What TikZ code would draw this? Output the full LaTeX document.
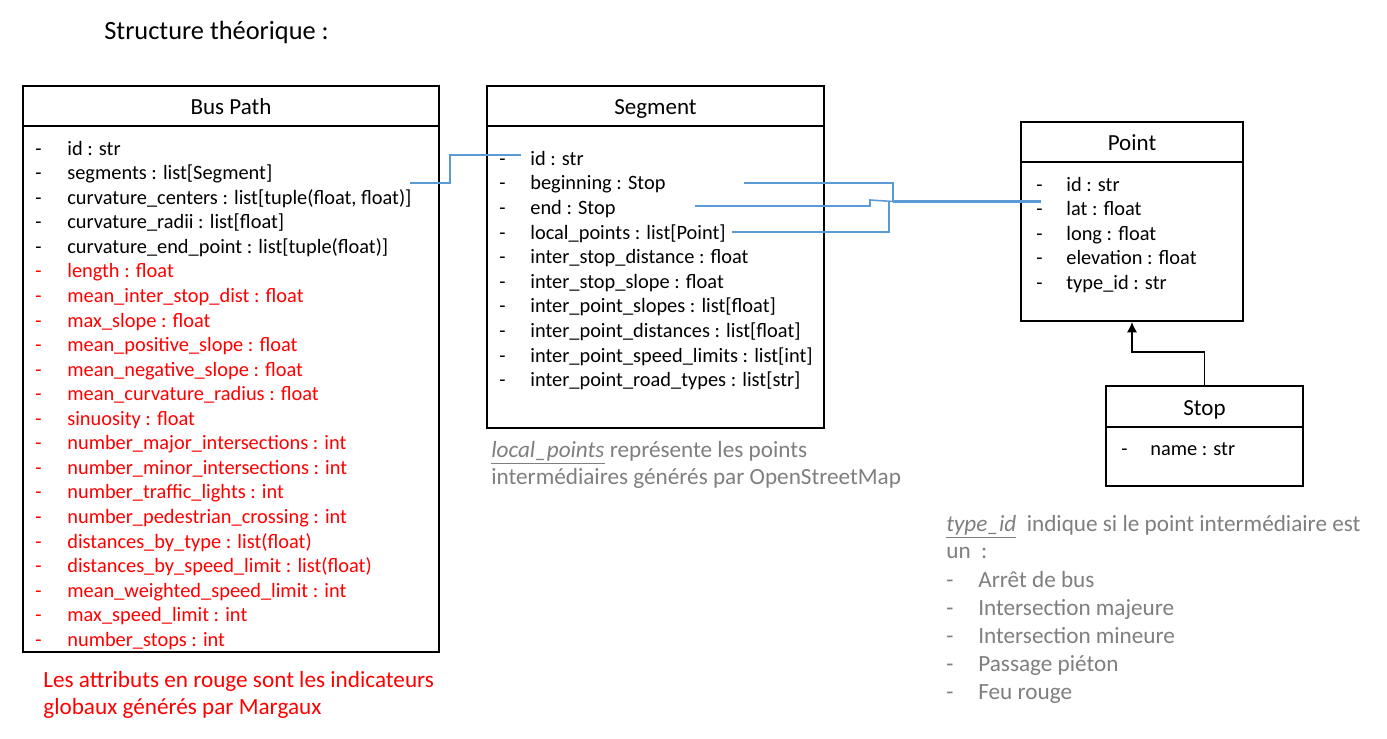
\documentclass[tikz,border=0pt]{standalone}
\usepackage{fontspec}
\setmainfont{Carlito}
\usetikzlibrary{arrows.meta}
\definecolor{linkblue}{HTML}{5B9BD5}
\definecolor{notegray}{HTML}{7F7F7F}
\definecolor{attrred}{HTML}{FF0000}
\tikzset{
	classbox/.style={draw, line width=1.1pt, inner sep=0pt},
	divider/.style={line width=1.1pt},
	attr/.style={anchor=mid west, inner sep=0pt, yshift=-0.06cm, font=\fontsize{11.6}{13.9}\selectfont},
	classtitle/.style={anchor=mid, inner sep=0pt, yshift=-0.06cm, font=\fontsize{13.1}{15.5}\selectfont},
	note/.style={anchor=mid west, inner sep=0pt, yshift=-0.06cm, text=notegray, font=\fontsize{13.2}{15.8}\selectfont},
	link/.style={draw=linkblue, line width=0.9pt},
}
\begin{document}
\begin{tikzpicture}[x=0.02cm, y=-0.02cm]
	\useasboundingbox[fill=white] (0,0) rectangle (1387,738);
	% Title
	\node[anchor=mid west, inner sep=0pt, yshift=-0.06cm, font=\fontsize{15}{18}\selectfont] (title) at (104,32) {Structure théorique :};
	% Class boxes
	\node[classbox, minimum width=8.32cm, minimum height=11.32cm] (busPath) at (231,369) {};
	\node[classbox, minimum width=6.74cm, minimum height=6.84cm] (segment) at (655.5,257) {};
	\node[classbox, minimum width=4.44cm, minimum height=3.98cm] (point) at (1132,221.5) {};
	\node[classbox, minimum width=3.94cm, minimum height=2cm] (stop) at (1204.5,436) {};
	\draw[divider] ([yshift=-0.82cm]busPath.north west) -- ([yshift=-0.82cm]busPath.north east);
	\draw[divider] ([yshift=-0.82cm]segment.north west) -- ([yshift=-0.82cm]segment.north east);
	\draw[divider] ([yshift=-0.82cm]point.north west) -- ([yshift=-0.82cm]point.north east);
	\draw[divider] ([yshift=-0.84cm]stop.north west) -- ([yshift=-0.84cm]stop.north east);
	\node[classtitle] (busPathTitle) at (231,107) {Bus Path};
	\node[classtitle] (segmentTitle) at (655.5,107) {Segment};
	\node[classtitle] (pointTitle) at (1132,143) {Point};
	\node[classtitle] (stopTitle) at (1204.5,408) {Stop};
	% Bus Path attributes
	\foreach \txt [count=\i] in {id : str, segments : list[Segment], {curvature\_centers : list[tuple(float, float)]}, curvature\_radii : list[float], curvature\_end\_point : list[tuple(float)]}{
		\node[attr] (bpd\i) at (35,{148+24.55*(\i-1)}) {-};
		\node[attr] (bp\i) at (67,{148+24.55*(\i-1)}) {\txt};}
	\foreach \txt [count=\i from 6] in {length : float, mean\_inter\_stop\_dist : float, max\_slope : float, mean\_positive\_slope : float, mean\_negative\_slope : float, mean\_curvature\_radius : float, sinuosity : float, number\_major\_intersections : int, number\_minor\_intersections : int, number\_traffic\_lights : int, number\_pedestrian\_crossing : int, distances\_by\_type : list(float), distances\_by\_speed\_limit : list(float), mean\_weighted\_speed\_limit : int, max\_speed\_limit : int, number\_stops : int}{
		\node[attr, text=attrred] (bpd\i) at (35,{148+24.55*(\i-1)}) {-};
		\node[attr, text=attrred] (bp\i) at (67,{148+24.55*(\i-1)}) {\txt};}
	% Segment attributes
	\foreach \txt [count=\i] in {id : str, beginning : Stop, end : Stop, local\_points : list[Point], inter\_stop\_distance : float, inter\_stop\_slope : float, inter\_point\_slopes : list[float], inter\_point\_distances : list[float], inter\_point\_speed\_limits : list[int], inter\_point\_road\_types : list[str]}{
		\node[attr] (sgd\i) at (499,{158+24.6*(\i-1)}) {-};
		\node[attr] (sg\i) at (530,{158+24.6*(\i-1)}) {\txt};}
	% Point attributes
	\foreach \txt [count=\i] in {id : str, lat : float, long : float, elevation : float, type\_id : str}{
		\node[attr] (ptd\i) at (1036,{184+24.5*(\i-1)}) {-};
		\node[attr] (pt\i) at (1066,{184+24.5*(\i-1)}) {\txt};}
	% Stop attributes
	\node[attr] (spd1) at (1121,448) {-};
	\node[attr] (sp1) at (1150,448) {name : str};
	% Links
	\coordinate (bpSegOut) at (410,183);
	\coordinate (sgIdIn) at (521,155);
	\coordinate (sgBegOut) at (744,183);
	\coordinate (sgEndOut) at (695,206);
	\coordinate (sgLocOut) at (732,232);
	\coordinate (junction) at (893,201.5);
	\coordinate (ptIn) at (1041,201.5);
	\draw[link] (bpSegOut) -- ++(40,0) |- (sgIdIn);
	\draw[link] (sgBegOut) -| (junction);
	\draw[link] (sgEndOut) -- ++(175,0) -- ++(0,-6) -- (junction);
	\draw[link] (sgLocOut) -- ++(157,0) -- ++(0,-31);
	\draw[link, line width=2.2pt] (junction) -- (ptIn);
	\draw[line width=1.1pt, -{Latex[length=6pt,width=6pt]}] (stop.north) -- ++(0,-33) -| (point.south);
	% Notes
	\node[note] (localNote1) at (491,450) {\underline{\textit{local\_points}} représente les points};
	\node[note] (localNote2) at (491,477) {intermédiaires générés par OpenStreetMap};
	\node[note] (typeNote1) at (946,524) {\underline{\textit{type\_id}}\ \ indique si le point intermédiaire est};
	\node[note] (typeNote2) at (946,551) {un\ \ :};
	\foreach \txt [count=\i] in {Arrêt de bus, Intersection majeure, Intersection mineure, Passage piéton, Feu rouge}{
		\node[note] (typed\i) at (946,{580+28*(\i-1)}) {-};
		\node[note] (type\i) at (978,{580+28*(\i-1)}) {\txt};}
	\node[note, text=attrred] (redNote1) at (43,680) {Les attributs en rouge sont les indicateurs};
	\node[note, text=attrred] (redNote2) at (43,707) {globaux générés par Margaux};
\end{tikzpicture}
\end{document}
